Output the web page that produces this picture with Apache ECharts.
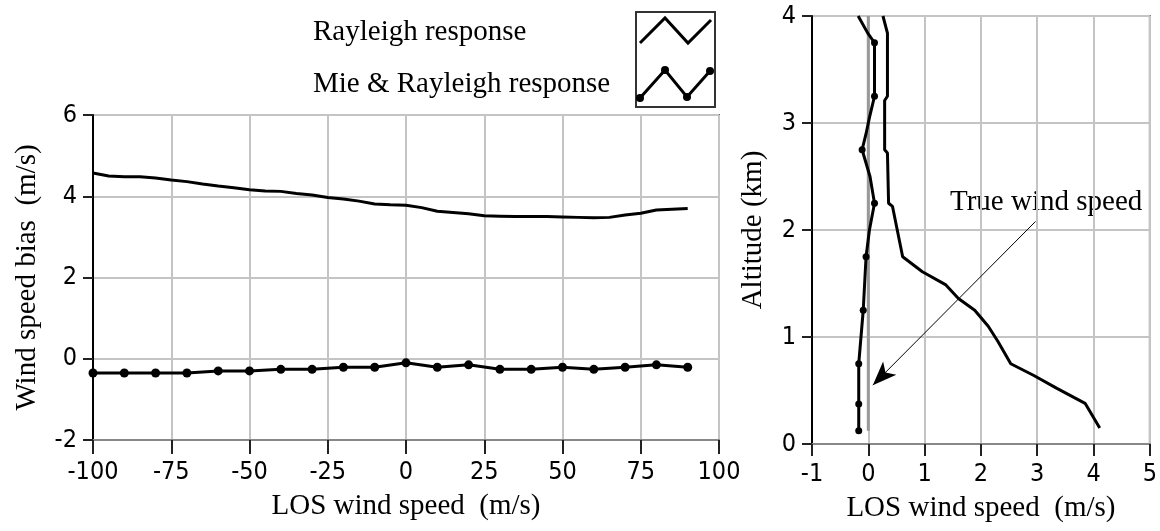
<!DOCTYPE html>
<html>
<head>
<meta charset="utf-8">
<script src="https://cdn.jsdelivr.net/npm/echarts@6/dist/echarts.min.js"></script>
<style>
  html, body { margin: 0; padding: 0; background: #fff; }
  #chart { width: 1160px; height: 531px; }
</style>
</head>
<body>
<div id="chart"></div>
<script>
  "use strict";

  // left panel: bias vs LOS wind speed
  var rayleighSpeed = [-100, -95, -90, -85, -80, -75, -70, -65, -60, -55, -50, -45, -40, -35, -30, -25, -20, -15, -10, -5,
    0, 5, 10, 15, 20, 25, 30, 35, 40, 45, 50, 55, 60, 65, 70, 75, 80, 85, 90];
  var rayleighBias = [4.57, 4.50, 4.48, 4.48, 4.45, 4.40, 4.36, 4.30, 4.25, 4.21, 4.16, 4.13, 4.12, 4.07, 4.03, 3.97, 3.93, 3.88, 3.81, 3.79,
    3.78, 3.72, 3.63, 3.60, 3.57, 3.52, 3.51, 3.50, 3.50, 3.50, 3.49, 3.48, 3.47, 3.48, 3.54, 3.58, 3.66, 3.68, 3.70];

  var mieSpeed = [-100, -90, -80, -70, -60, -50, -40, -30, -20, -10, 0, 10, 20, 30, 40, 50, 60, 70, 80, 90];
  var mieBias = [-0.35, -0.35, -0.35, -0.35, -0.30, -0.30, -0.26, -0.26, -0.21, -0.21,
    -0.10, -0.21, -0.15, -0.26, -0.26, -0.21, -0.26, -0.21, -0.15, -0.21];

  // right panel: altitude profiles
  var rayleighProfileAlt = [4.0, 3.84, 3.25, 3.21, 2.75, 2.72, 2.25, 2.22, 1.75, 1.61, 1.49, 1.36, 1.25, 1.10, 0.96, 0.75, 0.64, 0.52, 0.38, 0.15];
  var rayleighProfileLos = [0.26, 0.34, 0.34, 0.29, 0.29, 0.34, 0.36, 0.43, 0.61, 0.96, 1.37, 1.60, 1.89, 2.13, 2.30, 2.53, 2.94, 3.35, 3.85, 4.11];

  var mieProfileAlt = [4.0, 3.84, 3.75, 3.25, 3.05, 2.9, 2.75, 2.5, 2.25, 2.0, 1.75, 1.25, 0.75, 0.375, 0.125];
  var mieProfileLos = [-0.18, -0.01, 0.11, 0.11, 0.02, -0.04, -0.11, 0.03, 0.11, 0.02, -0.04, -0.09, -0.17, -0.17, -0.17];
  var mieMarkerAlt = [3.75, 3.25, 2.75, 2.25, 1.75, 1.25, 0.75, 0.375, 0.125];

  var trueWindAlt = [0.125, 4.0];
  var trueWindLos = [0, 0];

  var arrowFrom = [2.97, 2.08];
  var arrowTo = [0.08, 0.55];

  var SERIF = "'Liberation Serif', 'Times New Roman', serif";
  var NARROW = "'Liberation Sans Narrow', 'DejaVu Sans Condensed', 'Liberation Sans', sans-serif";

  function pairs(xs, ys) {
    return xs.map(function (x, i) { return [x, ys[i]]; });
  }

  function axisBase(extra) {
    var base = {
      type: "value",
      nameLocation: "middle",
      nameTextStyle: { fontFamily: SERIF, fontSize: 29, color: "#000" },
      axisLine: { show: true, onZero: false, lineStyle: { color: "#000", width: 2 } },
      axisTick: { show: true, length: 10, lineStyle: { color: "#222", width: 2 } },
      axisLabel: { fontFamily: NARROW, fontSize: 25, color: "#000" },
      splitLine: { show: true, lineStyle: { color: "#c4c4c4", width: 2 } }
    };
    return Object.assign(base, extra);
  }

  var greyLine = { show: true, onZero: false, lineStyle: { color: "#888", width: 2 } };

  var mieProfileData = mieProfileAlt.map(function (alt, i) {
    var marked = mieMarkerAlt.indexOf(alt) !== -1;
    return { value: [mieProfileLos[i], alt], symbol: marked ? "circle" : "none" };
  });

  var option = {
    animation: false,
    backgroundColor: "#fff",
    grid: [
      { left: 93, top: 115, width: 626, height: 325, show: true, borderColor: "#666", borderWidth: 2 },
      { left: 812, top: 16, width: 342, height: 428, show: true, borderColor: "#666", borderWidth: 2 }
    ],
    xAxis: [
      axisBase({
        gridIndex: 0, min: -100, max: 100, interval: 25,
        name: "LOS wind speed  (m/s)", nameGap: 52,
        axisLine: greyLine,
        axisTick: { show: true, length: 14, lineStyle: { color: "#222", width: 2 } },
        axisLabel: { fontFamily: NARROW, fontSize: 25, color: "#000", margin: 20 }
      }),
      axisBase({
        gridIndex: 1, min: -1, max: 5, interval: 1,
        name: "LOS wind speed  (m/s)", nameGap: 50,
        axisLine: greyLine,
        axisTick: { show: true, length: 12, lineStyle: { color: "#222", width: 2 } },
        axisLabel: { fontFamily: NARROW, fontSize: 25, color: "#000", margin: 18 }
      })
    ],
    yAxis: [
      axisBase({
        gridIndex: 0, min: -2, max: 6, interval: 2,
        name: "Wind speed bias  (m/s)", nameGap: 51,
        axisLabel: { fontFamily: NARROW, fontSize: 25, color: "#000", margin: 16 }
      }),
      axisBase({
        gridIndex: 1, min: 0, max: 4, interval: 1,
        name: "Altitude (km)", nameGap: 44,
        axisLabel: { fontFamily: NARROW, fontSize: 25, color: "#000", margin: 16 }
      })
    ],
    series: [
      {
        name: "Rayleigh response",
        type: "line", xAxisIndex: 0, yAxisIndex: 0,
        data: pairs(rayleighSpeed, rayleighBias),
        showSymbol: false,
        lineStyle: { color: "#000", width: 3 }
      },
      {
        name: "Mie & Rayleigh response",
        type: "line", xAxisIndex: 0, yAxisIndex: 0,
        data: pairs(mieSpeed, mieBias),
        symbol: "circle", symbolSize: 9,
        itemStyle: { color: "#000" },
        lineStyle: { color: "#000", width: 3 }
      },
      {
        name: "True wind speed",
        type: "line", xAxisIndex: 1, yAxisIndex: 1,
        data: pairs(trueWindLos, trueWindAlt),
        showSymbol: false,
        lineStyle: { color: "#999", width: 3 },
        markLine: {
          silent: true,
          symbol: ["none", "arrow"],
          symbolSize: [14, 24],
          label: { show: false },
          lineStyle: { color: "#000", width: 1, type: "solid" },
          data: [[{ coord: arrowFrom }, { coord: arrowTo }]]
        }
      },
      {
        name: "Rayleigh profile",
        type: "line", xAxisIndex: 1, yAxisIndex: 1,
        data: pairs(rayleighProfileLos, rayleighProfileAlt),
        showSymbol: false,
        lineStyle: { color: "#000", width: 3 }
      },
      {
        name: "Mie profile",
        type: "line", xAxisIndex: 1, yAxisIndex: 1,
        data: mieProfileData,
        symbolSize: 7,
        itemStyle: { color: "#000" },
        lineStyle: { color: "#000", width: 3 }
      }
    ],
    graphic: [
      // legend
      { type: "text", x: 313, y: 32, style: { text: "Rayleigh response", font: "29px " + SERIF, fill: "#000", verticalAlign: "middle" } },
      { type: "text", x: 313, y: 84, style: { text: "Mie & Rayleigh response", font: "29px " + SERIF, fill: "#000", verticalAlign: "middle" } },
      { type: "rect", shape: { x: 636, y: 12, width: 79, height: 95 }, style: { fill: "none", stroke: "#333", lineWidth: 2 } },
      { type: "polyline", shape: { points: [[640, 43], [665, 18], [688, 43], [711, 20]] }, style: { fill: "none", stroke: "#000", lineWidth: 3 } },
      { type: "polyline", shape: { points: [[640, 98], [665, 70], [687, 97], [710, 71]] }, style: { fill: "none", stroke: "#000", lineWidth: 3 } },
      { type: "circle", shape: { cx: 640, cy: 98, r: 4 }, style: { fill: "#000" } },
      { type: "circle", shape: { cx: 665, cy: 70, r: 4 }, style: { fill: "#000" } },
      { type: "circle", shape: { cx: 687, cy: 97, r: 4 }, style: { fill: "#000" } },
      { type: "circle", shape: { cx: 710, cy: 71, r: 4 }, style: { fill: "#000" } },
      // annotation
      { type: "text", x: 950, y: 202, style: { text: "True wind speed", font: "29px " + SERIF, fill: "#000", verticalAlign: "middle" } }
    ]
  };

  var chart = echarts.init(document.getElementById("chart"));
  chart.setOption(option);
</script>
</body>
</html>
